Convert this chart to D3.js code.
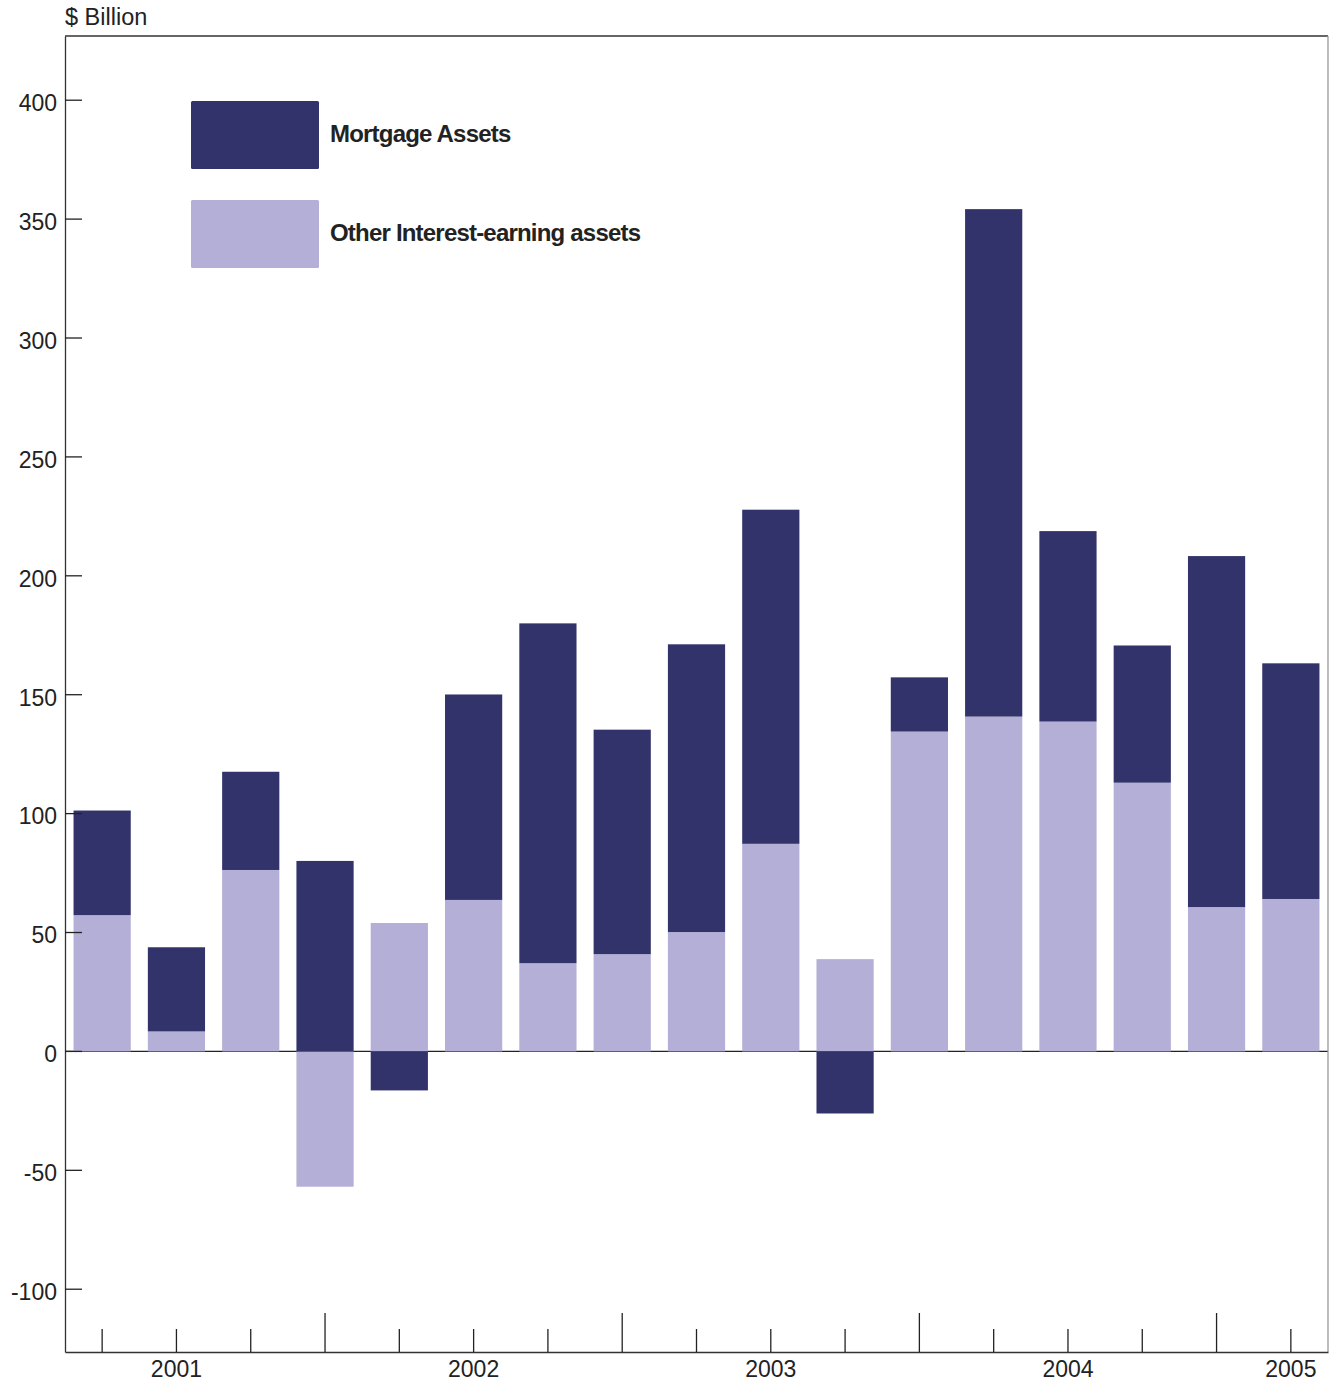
<!DOCTYPE html>
<html>
<head>
<meta charset="utf-8">
<script src="https://cdn.jsdelivr.net/npm/d3@7"></script>
<style>
  html, body { margin: 0; padding: 0; background: #fff; }
  svg { display: block; }
  text { font-family: "Liberation Sans", Arial, sans-serif; fill: #222; }
</style>
</head>
<body>
<script>
// ---- data ----
const quarters = ["2001Q1","2001Q2","2001Q3","2001Q4","2002Q1","2002Q2","2002Q3","2002Q4",
                  "2003Q1","2003Q2","2003Q3","2003Q4","2004Q1","2004Q2","2004Q3","2004Q4","2005Q1"];
const mortgageAssets = [44.0, 35.4, 41.3, 80.1, -16.4, 86.4, 142.9, 94.4, 121.0, 140.5, -26.1, 22.8, 213.4, 80.1, 57.7, 147.6, 99.1];
const otherAssets    = [57.3, 8.4, 76.3, -56.9, 54.0, 63.7, 37.1, 40.9, 50.2, 87.3, 38.8, 134.5, 140.8, 138.7, 113.0, 60.7, 64.1];
const yTicks = [-100, -50, 0, 50, 100, 150, 200, 250, 300, 350, 400];
const yearLabels = [["2001Q2","2001"],["2002Q2","2002"],["2003Q2","2003"],["2004Q2","2004"],["2005Q1","2005"]];
const seriesNames = ["Mortgage Assets", "Other Interest-earning assets"];
const colors = {mortgage: "#33336b", other: "#b4afd6"};

(function () {
// ---- layout ----
const W = 1329, H = 1384;
const pLeft = 65, pRight = 1328, pTop = 36, pBottom = 1352;

const svg = d3.select("body").append("svg").attr("width", W).attr("height", H);

const x = d3.scaleBand().domain(quarters).range([pLeft, pRight]).paddingInner(0.23).paddingOuter(0.115);
const y = d3.scaleLinear().domain([-126.4, 427]).range([pBottom, pTop]);

// zero line (behind bars)
svg.append("line").attr("x1", pLeft).attr("x2", pRight).attr("y1", y(0)).attr("y2", y(0))
  .attr("stroke", "#222").attr("stroke-width", 1.3);

// stacked bars: positives stack from 0 upward (other first, then mortgage), negatives downward
const rows = quarters.map((q, i) => {
  const segs = [];
  let pos = 0, neg = 0;
  [["other", otherAssets[i]], ["mortgage", mortgageAssets[i]]].forEach(([k, v]) => {
    if (v >= 0) { segs.push({k, y0: pos, y1: pos + v}); pos += v; }
    else { segs.push({k, y0: neg + v, y1: neg}); neg += v; }
  });
  return {q, segs};
});

const g = svg.append("g");
rows.forEach(r => {
  r.segs.forEach(s => {
    g.append("rect")
      .attr("x", x(r.q))
      .attr("width", x.bandwidth())
      .attr("y", y(s.y1))
      .attr("height", y(s.y0) - y(s.y1))
      .attr("fill", colors[s.k]);
  });
});

// frame
svg.append("line").attr("x1", pLeft).attr("x2", pRight).attr("y1", pTop).attr("y2", pTop).attr("stroke", "#333").attr("stroke-width", 1.3);
svg.append("line").attr("x1", pRight).attr("x2", pRight).attr("y1", pTop).attr("y2", pBottom).attr("stroke", "#999").attr("stroke-width", 1.3);

// y axis
const yAxis = d3.axisLeft(y).tickValues(yTicks).tickSize(0).tickPadding(8).tickFormat(d => String(d));
const ya = svg.append("g").attr("transform", `translate(${pLeft},0)`).call(yAxis);
ya.select(".domain").attr("stroke", "#333").attr("stroke-width", 1.3);
ya.selectAll("text").attr("font-size", 23).attr("font-family", "Liberation Sans, Arial, sans-serif").attr("fill", "#222").attr("dy", "0.45em").attr("x", -8);
// inward ticks
svg.append("g").selectAll("line").data(yTicks).join("line")
  .attr("x1", pLeft).attr("x2", pLeft + 17).attr("y1", d => y(d)).attr("y2", d => y(d))
  .attr("stroke", "#222").attr("stroke-width", 1.3);

// x axis
const xAxis = d3.axisBottom(x).tickSize(0).tickFormat("");
const xa = svg.append("g").attr("transform", `translate(0,${pBottom})`).call(xAxis);
xa.select(".domain").attr("stroke", "#333").attr("stroke-width", 1.3);
svg.append("g").selectAll("line").data(quarters).join("line")
  .attr("x1", d => x(d) + x.bandwidth() / 2).attr("x2", d => x(d) + x.bandwidth() / 2)
  .attr("y1", pBottom).attr("y2", d => d.endsWith("Q4") ? pBottom - 39 : pBottom - 23)
  .attr("stroke", "#222").attr("stroke-width", 1.3);
svg.append("g").selectAll("text").data(yearLabels).join("text")
  .attr("x", d => x(d[0]) + x.bandwidth() / 2)
  .attr("y", 1377)
  .attr("text-anchor", "middle")
  .attr("font-size", 23)
  .text(d => d[1]);

// y title
svg.append("text").attr("x", 65).attr("y", 25).attr("font-size", 23.5).text("$ Billion");

// legend
const legend = svg.append("g");
[["mortgage", 101], ["other", 200]].forEach(([k, yy], i) => {
  legend.append("rect").attr("x", 191).attr("y", yy).attr("width", 128).attr("height", 68)
    .attr("rx", 1.5).attr("fill", colors[k]);
  legend.append("text").attr("x", 330).attr("y", yy + 41)
    .attr("font-size", 24).attr("font-weight", "bold").attr("letter-spacing", "-0.8px")
    .attr("fill", "#1a1a1a")
    .text(seriesNames[i]);
});
})();
</script>
</body>
</html>
